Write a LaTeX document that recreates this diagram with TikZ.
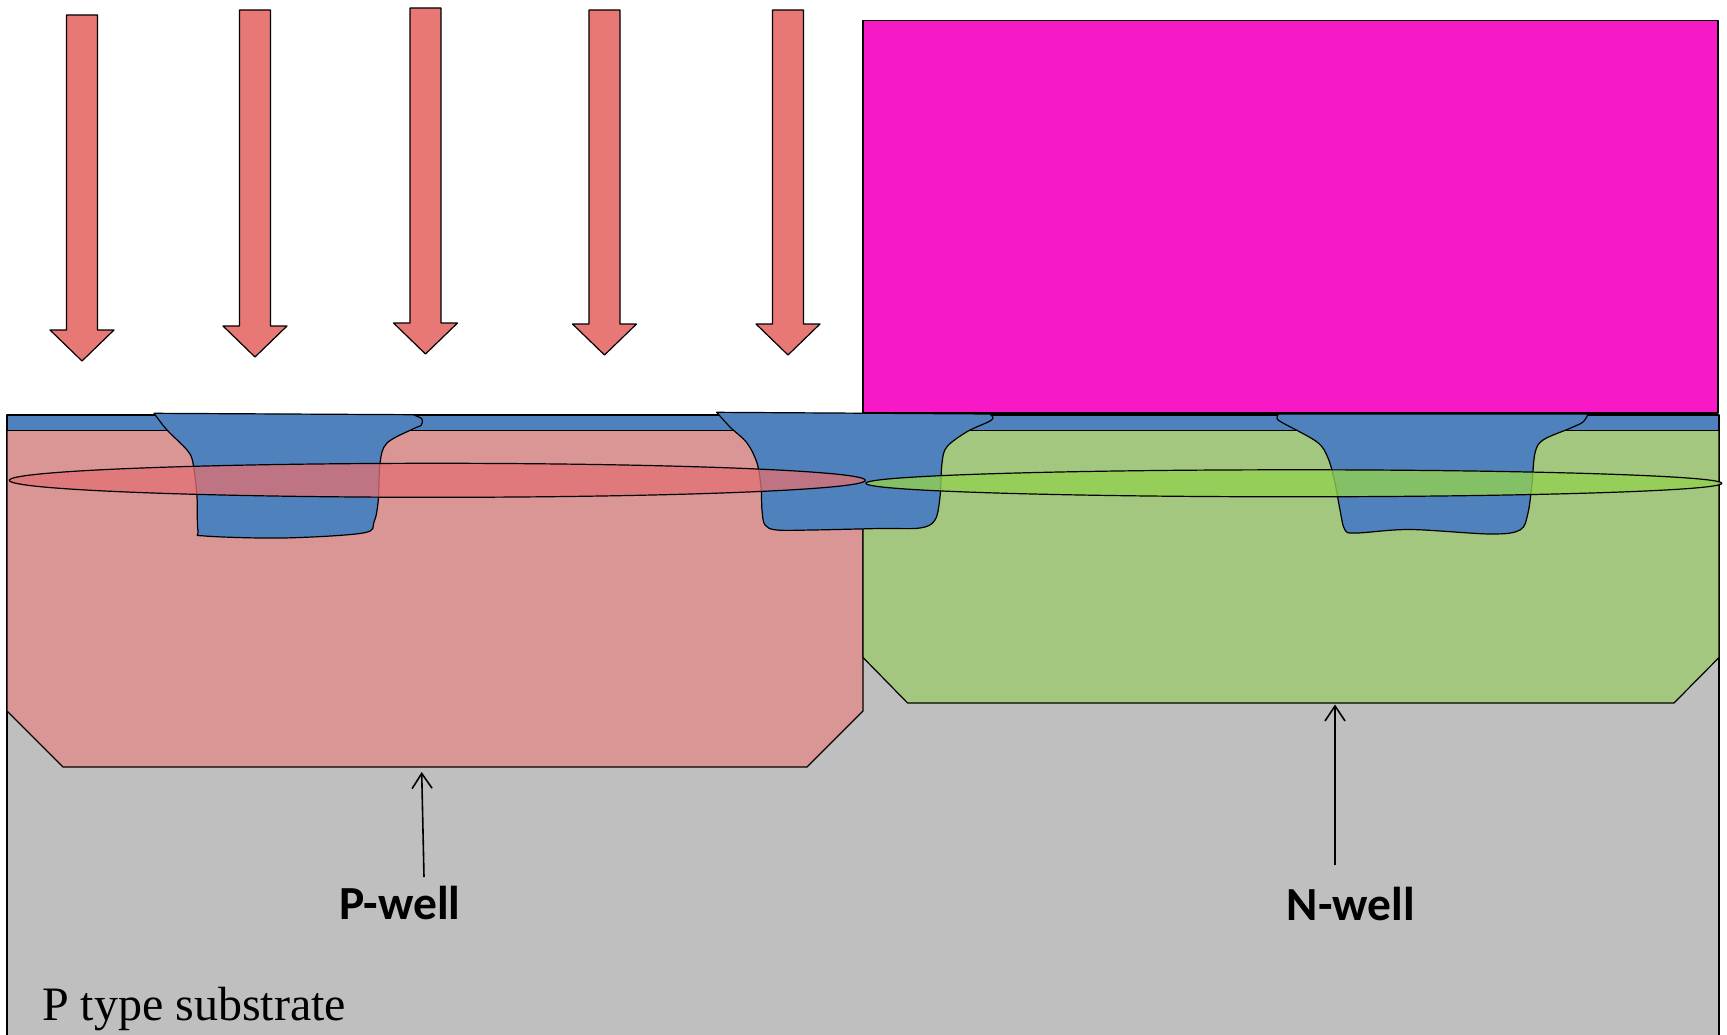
\documentclass[tikz,border=0pt]{standalone}
\usepackage{fontspec}
\setmainfont{Liberation Serif}
\newfontfamily\labelfont{Carlito}
\usetikzlibrary{arrows.meta}

% layer colours
\definecolor{implant}{HTML}{E87876}
\definecolor{resist}{HTML}{F719C5}
\definecolor{oxide}{HTML}{4F81BD}
\definecolor{pwellc}{HTML}{D99694}
\definecolor{nwellc}{HTML}{A3C77E}
\definecolor{subst}{HTML}{BFBFBF}
\definecolor{pdope}{HTML}{E27174}
\definecolor{ndope}{HTML}{92D050}

\tikzset{
  outline/.style={draw=black, line width=1.2pt},
  welllabel/.style={anchor=base, inner sep=0pt, font=\labelfont\bfseries\fontsize{47.5}{52}\selectfont},
  lblarrow/.style={line width=1.6pt, -{Straight Barb[length=15pt, width=20pt, line width=1.6pt]}}
}

\begin{document}
\begin{tikzpicture}[x=1pt, y=-1pt, line join=round]
  \useasboundingbox (0,0) rectangle (1727,1035);

  % P type substrate
  \fill[subst] (7,430) rectangle (1719,1035);
  \draw[outline] (7,415) -- (7,1035) (1719,415) -- (1719,1035);

  % wells with bevelled bottom corners
  \draw[outline, fill=pwellc] (7,430) -- (863,430) -- (863,711) -- (807,767)
    -- (63,767) -- (7,711) -- cycle;
  \draw[outline, fill=nwellc] (863,430) -- (1719,430) -- (1719,657.5) -- (1674,703)
    -- (907.6,703) -- (863,657.5) -- cycle;

  % thin oxide on top
  \draw[outline, fill=oxide] (7,415) rectangle (1719,430.5);

  % shallow trench isolation
  \draw[outline, fill=oxide] plot[smooth, tension=0.55] coordinates {
    (413,414.7) (422,419) (421,425.5) (414,428.5) (387,443) (380,463) (378.3,500)
    (374,522) (363,533) (283,538) (205,536) (198,531) (197,497) (193,463)
    (187,450) (167,430) (154,413.3)} -- cycle;
  \draw[outline, fill=oxide] plot[smooth, tension=0.55] coordinates {
    (990,414) (993,418) (988,422) (967,431.7) (947,446.7) (942,463) (940,497)
    (935,520) (920,528) (880,528.5) (813,530) (777,530) (765,525) (762,510)
    (761,487) (757,463) (747,443) (730,427) (716.7,412.3)} -- cycle;
  \draw[outline, fill=oxide] plot[smooth, tension=0.55] coordinates {
    (1588,414) (1583,422) (1570,428.3) (1543,440) (1535,453) (1532,483)
    (1528,513) (1520,530) (1490,534) (1410,529.5) (1357,533) (1345,530)
    (1340,510) (1335,483) (1328,458) (1317,442) (1283,423) (1277,418.5)
    (1278.3,414)} -- cycle;

  % implanted dopant profiles
  \draw[outline, fill=pdope, fill opacity=0.77] (437.3,480.3) ellipse [x radius=428pt, y radius=17pt];
  \draw[outline, fill=ndope, fill opacity=0.8] (1293.8,483.3) ellipse [x radius=428pt, y radius=13.5pt];

  % photoresist mask over the n-well
  \draw[outline, fill=resist] (863,20.7) rectangle (1718,413);

  % incoming ion beam
  \foreach \cx/\top/\tip in {82/15/361, 255/10/357, 425.5/8/354, 604.5/10/355, 788/10/355}
    \draw[outline, fill=implant] ({\cx-15.5},\top) -- ({\cx+15.5},\top) -- ({\cx+15.5},{\tip-31})
      -- ({\cx+32},{\tip-31}) -- (\cx,\tip) -- ({\cx-32},{\tip-31}) -- ({\cx-15.5},{\tip-31}) -- cycle;

  % labels
  \node[welllabel] (plabel) at (400,919.5) {P-well};
  \node[welllabel] (nlabel) at (1351,920) {N-well};
  \coordinate (ptail) at (424,877);
  \coordinate (ptip) at (421.7,772);
  \coordinate (ntail) at (1335,865);
  \coordinate (ntip) at (1335,704.5);
  \draw[lblarrow] (ptail) -- (ptip);
  \draw[lblarrow] (ntail) -- (ntip);

  \node[anchor=base west, inner sep=0pt, font=\fontsize{48}{52}\selectfont] (subtxt)
    at (42,1020) {P type substrate};
\end{tikzpicture}
\end{document}
